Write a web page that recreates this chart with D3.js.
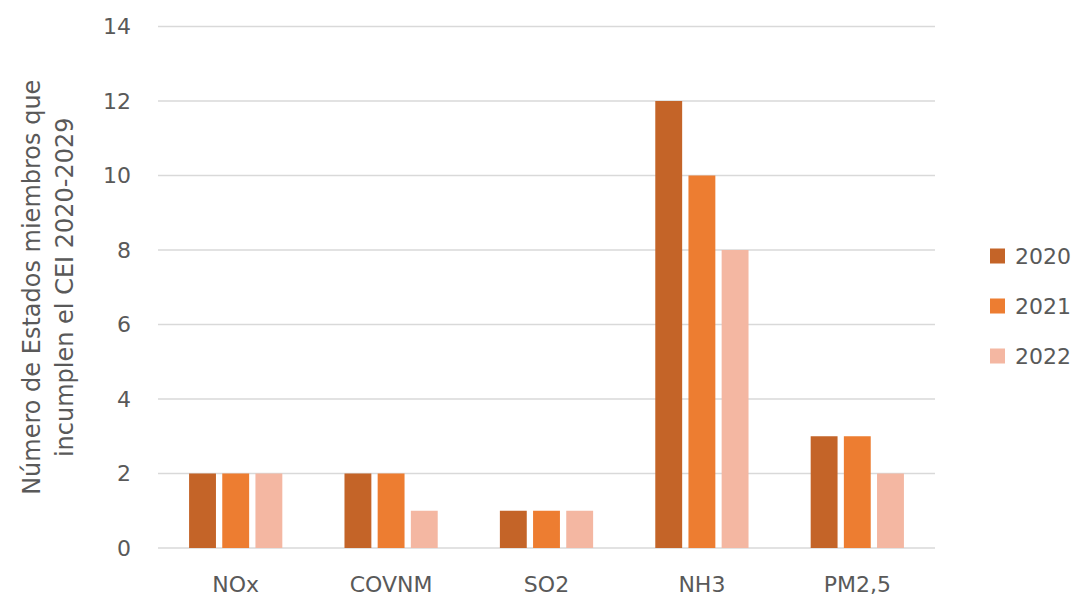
<!DOCTYPE html>
<html>
<head>
<meta charset="utf-8">
<script src="https://cdn.jsdelivr.net/npm/d3@7"></script>
<style>
  body { margin: 0; background: #fff; }
  text { font-family: "DejaVu Sans", sans-serif; fill: #595959; }
</style>
</head>
<body>
<svg id="chart" width="1077" height="596"></svg>
<script>
const categories = ["NOx", "COVNM", "SO2", "NH3", "PM2,5"];
const seriesNames = ["2020", "2021", "2022"];
const values2020 = [2, 2, 1, 12, 3];
const values2021 = [2, 2, 1, 10, 3];
const values2022 = [2, 1, 1, 8, 2];
const yTicks = [0, 2, 4, 6, 8, 10, 12, 14];
const titleLines = ["Número de Estados miembros que", "incumplen el CEI 2020-2029"];

const colors = ["#c46428", "#ed7d31", "#f4b7a2"];
const seriesValues = [values2020, values2021, values2022];

const svg = d3.select("#chart");
const plotLeft = 158, plotRight = 935, plotTop = 26.5, plotBottom = 548;

const x = d3.scaleBand()
  .domain(categories)
  .range([plotLeft, plotRight])
  .paddingInner(0.4)
  .paddingOuter(0.2);

const xInner = d3.scaleBand()
  .domain(seriesNames)
  .range([0, x.bandwidth()])
  .paddingInner(0.19);

const y = d3.scaleLinear().domain([0, 14]).range([plotBottom, plotTop]);

// gridlines
svg.append("g")
  .selectAll("line")
  .data(yTicks)
  .join("line")
  .attr("x1", plotLeft)
  .attr("x2", plotRight)
  .attr("y1", (d) => y(d))
  .attr("y2", (d) => y(d))
  .style("stroke", "#d9d9d9")
  .style("stroke-width", 1.5);

// y tick labels
svg.append("g")
  .selectAll("text")
  .data(yTicks)
  .join("text")
  .attr("x", 131)
  .attr("y", (d) => y(d))
  .attr("dy", "0.36em")
  .attr("text-anchor", "end")
  .style("font-size", "22px")
  .text((d) => d);

// bars
seriesNames.forEach((name, s) => {
  svg.append("g")
    .selectAll("rect")
    .data(categories)
    .join("rect")
    .attr("x", (c) => x(c) + xInner(name))
    .attr("width", xInner.bandwidth())
    .attr("y", (c, i) => y(seriesValues[s][i]))
    .attr("height", (c, i) => y(0) - y(seriesValues[s][i]))
    .style("fill", colors[s]);
});

// x labels
svg.append("g")
  .selectAll("text")
  .data(categories)
  .join("text")
  .attr("x", (c) => x(c) + x.bandwidth() / 2)
  .attr("y", 592)
  .attr("text-anchor", "middle")
  .style("font-size", "22px")
  .text((c) => c);

// axis title
const title = svg.append("text")
  .attr("transform", `translate(0, ${(plotTop + plotBottom) / 2}) rotate(-90)`)
  .attr("text-anchor", "middle")
  .style("font-size", "24px");
titleLines.forEach((line, i) => {
  title.append("tspan")
    .attr("x", 0)
    .attr("y", 40 + i * 33)
    .text(line);
});

// legend
const legend = svg.append("g")
  .selectAll("g")
  .data(seriesNames)
  .join("g")
  .attr("transform", (d, i) => `translate(990, ${256 + i * 50})`);
legend.append("rect")
  .attr("x", 0)
  .attr("y", -7.5)
  .attr("width", 15)
  .attr("height", 15)
  .style("fill", (d, i) => colors[i]);
legend.append("text")
  .attr("x", 25)
  .attr("y", 0)
  .attr("dy", "0.36em")
  .style("font-size", "22px")
  .text((d) => d);
</script>
</body>
</html>
